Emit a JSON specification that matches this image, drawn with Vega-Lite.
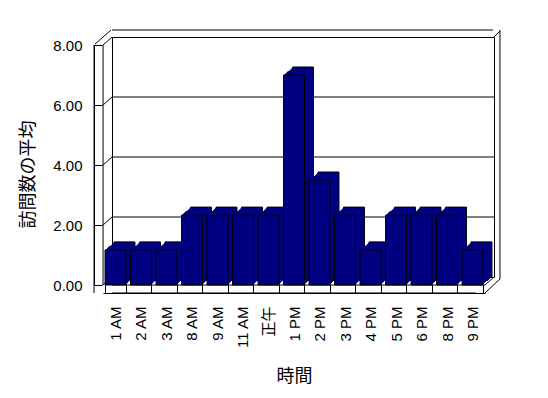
{
  "$schema": "https://vega.github.io/schema/vega-lite/v6.json",
  "autosize": {"type": "none"},
  "width": 382,
  "height": 240,
  "padding": {"left": 112, "top": 37, "right": 54, "bottom": 121},
  "background": "white",
  "config": {
    "view": {"stroke": "black", "strokeWidth": 1},
    "font": "Liberation Sans"
  },
  "datasets": {
    "visits": [
      {"時間": "1 AM", "平均": 1.17},
      {"時間": "2 AM", "平均": 1.17},
      {"時間": "3 AM", "平均": 1.17},
      {"時間": "8 AM", "平均": 2.33},
      {"時間": "9 AM", "平均": 2.33},
      {"時間": "11 AM", "平均": 2.33},
      {"時間": "正午", "平均": 2.33},
      {"時間": "1 PM", "平均": 7.0},
      {"時間": "2 PM", "平均": 3.5},
      {"時間": "3 PM", "平均": 2.33},
      {"時間": "4 PM", "平均": 1.17},
      {"時間": "5 PM", "平均": 2.33},
      {"時間": "6 PM", "平均": 2.33},
      {"時間": "8 PM", "平均": 2.33},
      {"時間": "9 PM", "平均": 1.17}
    ],
    "grid": [{"v": 2}, {"v": 4}, {"v": 6}],
    "ticks": [{"v": 0}, {"v": 2}, {"v": 4}, {"v": 6}, {"v": 8}],
    "one": [{"v": 0}]
  },
  "layer": [
    {
      "data": {"name": "grid"},
      "mark": {"type": "rule", "color": "black", "strokeWidth": 1},
      "encoding": {
        "y": {"field": "v", "type": "quantitative", "scale": {"domain": [0, 8]}}
      }
    },
    {
      "data": {"name": "ticks"},
      "mark": {"type": "rule", "color": "black", "strokeWidth": 1, "xOffset": -11, "x2Offset": -2, "yOffset": 8, "y2Offset": 0},
      "encoding": {
        "x": {"datum": "1 AM", "type": "nominal", "bandPosition": 0},
        "x2": {"datum": "1 AM", "bandPosition": 0},
        "y": {"field": "v", "type": "quantitative"},
        "y2": {"field": "v"}
      }
    },
    {
      "data": {"name": "visits"},
      "mark": {"type": "bar", "color": "#000080", "stroke": "black", "strokeWidth": 1},
      "encoding": {
        "x": {
          "field": "時間", "type": "nominal",
          "scale": {
            "domain": ["1 AM", "2 AM", "3 AM", "8 AM", "9 AM", "11 AM", "正午", "1 PM", "2 PM", "3 PM", "4 PM", "5 PM", "6 PM", "8 PM", "9 PM"],
            "paddingInner": 0.18, "paddingOuter": 0.08
          },
          "axis": {
            "title": "時間",
            "titleFont": "Noto Sans CJK JP",
            "titleFontSize": 18,
            "titleFontWeight": "normal",
            "titleColor": "black",
            "titlePadding": 19,
            "labelFont": "Liberation Sans, Noto Sans CJK JP",
            "labelFontSize": 15,
            "labelColor": "black",
            "labelAngle": -90,
            "labelPadding": 22,
            "offset": 16,
            "position": -9,
            "tickBand": "extent",
            "tickSize": -9,
            "tickColor": "black",
            "domainColor": "black"
          }
        },
        "y": {
          "field": "平均", "type": "quantitative",
          "scale": {"domain": [0, 8]},
          "axis": {
            "title": "訪問数の平均",
            "titleFont": "Noto Sans CJK JP",
            "titleFontSize": 18,
            "titleFontWeight": "normal",
            "titleColor": "black",
            "titlePadding": 15,
            "titleY": 129,
            "values": [0, 2, 4, 6, 8],
            "format": ".2f",
            "grid": false,
            "labelFont": "Liberation Sans",
            "labelFontSize": 15,
            "labelColor": "black",
            "labelPadding": 20,
            "offset": 18,
            "position": 8,
            "tickSize": -8,
            "tickColor": "black",
            "domainColor": "black"
          }
        }
      }
    },
    {"data": {"name": "visits"}, "mark": {"type": "bar", "color": "#000080", "xOffset": -1, "yOffset": 1, "y2Offset": 1}, "encoding": {"x": {"field": "時間", "type": "nominal"}, "y": {"field": "平均", "type": "quantitative"}}},
    {"data": {"name": "visits"}, "mark": {"type": "bar", "color": "#000080", "xOffset": -2, "yOffset": 2, "y2Offset": 2}, "encoding": {"x": {"field": "時間", "type": "nominal"}, "y": {"field": "平均", "type": "quantitative"}}},
    {"data": {"name": "visits"}, "mark": {"type": "bar", "color": "#000080", "xOffset": -3, "yOffset": 3, "y2Offset": 3}, "encoding": {"x": {"field": "時間", "type": "nominal"}, "y": {"field": "平均", "type": "quantitative"}}},
    {"data": {"name": "visits"}, "mark": {"type": "bar", "color": "#000080", "xOffset": -4, "yOffset": 4, "y2Offset": 4}, "encoding": {"x": {"field": "時間", "type": "nominal"}, "y": {"field": "平均", "type": "quantitative"}}},
    {"data": {"name": "visits"}, "mark": {"type": "bar", "color": "#000080", "xOffset": -5, "yOffset": 4, "y2Offset": 4}, "encoding": {"x": {"field": "時間", "type": "nominal"}, "y": {"field": "平均", "type": "quantitative"}}},
    {"data": {"name": "visits"}, "mark": {"type": "bar", "color": "#000080", "xOffset": -6, "yOffset": 5, "y2Offset": 5}, "encoding": {"x": {"field": "時間", "type": "nominal"}, "y": {"field": "平均", "type": "quantitative"}}},
    {"data": {"name": "visits"}, "mark": {"type": "bar", "color": "#000080", "xOffset": -7, "yOffset": 6, "y2Offset": 6}, "encoding": {"x": {"field": "時間", "type": "nominal"}, "y": {"field": "平均", "type": "quantitative"}}},
    {"data": {"name": "visits"}, "mark": {"type": "bar", "color": "#000080", "xOffset": -8, "yOffset": 7, "y2Offset": 7}, "encoding": {"x": {"field": "時間", "type": "nominal"}, "y": {"field": "平均", "type": "quantitative"}}},
    {
      "data": {"name": "visits"},
      "mark": {"type": "bar", "color": "#000080", "stroke": "black", "strokeWidth": 1, "xOffset": -9, "yOffset": 8, "y2Offset": 8},
      "encoding": {
        "x": {"field": "時間", "type": "nominal"},
        "y": {"field": "平均", "type": "quantitative"}
      }
    },
    {
      "data": {"name": "one"},
      "mark": {"type": "rule", "color": "black", "strokeWidth": 1, "yOffset": 8, "xOffset": -9, "x2Offset": -9},
      "encoding": {"y": {"datum": 0, "type": "quantitative"}}
    },
    {
      "data": {"name": "one"},
      "mark": {"type": "rule", "color": "black", "strokeWidth": 1, "yOffset": 16, "xOffset": -18, "x2Offset": -9},
      "encoding": {"y": {"datum": 0, "type": "quantitative"}}
    },
    {
      "data": {"name": "one"},
      "mark": {"type": "rule", "color": "black", "strokeWidth": 1, "yOffset": -7, "xOffset": -1, "x2Offset": 6},
      "encoding": {"y": {"datum": 8, "type": "quantitative"}}
    },
    {
      "data": {"name": "one"},
      "mark": {"type": "rule", "color": "black", "strokeWidth": 1, "xOffset": -11, "yOffset": 8, "y2Offset": 8},
      "encoding": {
        "x": {"datum": "1 AM", "type": "nominal", "bandPosition": 0},
        "y": {"datum": 0, "type": "quantitative"},
        "y2": {"datum": 8}
      }
    },
    {
      "data": {"name": "one"},
      "mark": {"type": "rule", "color": "black", "strokeWidth": 1, "xOffset": -20, "yOffset": 16, "y2Offset": 8},
      "encoding": {
        "x": {"datum": "1 AM", "type": "nominal", "bandPosition": 0},
        "y": {"datum": 0, "type": "quantitative"},
        "y2": {"datum": 8}
      }
    },
    {
      "data": {"name": "one"},
      "mark": {"type": "rule", "color": "black", "strokeWidth": 1, "xOffset": -19, "x2Offset": -3, "yOffset": 7, "y2Offset": -7},
      "encoding": {
        "x": {"datum": "1 AM", "type": "nominal", "bandPosition": 0},
        "x2": {"datum": "1 AM", "bandPosition": 0},
        "y": {"datum": 8, "type": "quantitative"},
        "y2": {"datum": 8}
      }
    },
    {
      "data": {"name": "one"},
      "mark": {"type": "rule", "color": "black", "strokeWidth": 1, "xOffset": 2, "x2Offset": 8, "yOffset": 0, "y2Offset": -6},
      "encoding": {
        "x": {"datum": "9 PM", "type": "nominal", "bandPosition": 1},
        "x2": {"datum": "9 PM", "bandPosition": 1},
        "y": {"datum": 8, "type": "quantitative"},
        "y2": {"datum": 8}
      }
    },
    {
      "data": {"name": "one"},
      "mark": {"type": "rule", "color": "black", "strokeWidth": 1, "xOffset": 8, "yOffset": -7, "y2Offset": 2},
      "encoding": {
        "x": {"datum": "9 PM", "type": "nominal", "bandPosition": 1},
        "y": {"datum": 8, "type": "quantitative"},
        "y2": {"datum": 0}
      }
    },
    {
      "data": {"name": "one"},
      "mark": {"type": "rule", "color": "black", "strokeWidth": 1, "xOffset": -7, "x2Offset": 2, "yOffset": 8, "y2Offset": 0},
      "encoding": {
        "x": {"datum": "9 PM", "type": "nominal", "bandPosition": 1},
        "x2": {"datum": "9 PM", "bandPosition": 1},
        "y": {"datum": 0, "type": "quantitative"},
        "y2": {"datum": 0}
      }
    },
    {
      "data": {"name": "one"},
      "mark": {"type": "rule", "color": "black", "strokeWidth": 1, "xOffset": -7, "x2Offset": 8, "yOffset": 16, "y2Offset": 2},
      "encoding": {
        "x": {"datum": "9 PM", "type": "nominal", "bandPosition": 1},
        "x2": {"datum": "9 PM", "bandPosition": 1},
        "y": {"datum": 0, "type": "quantitative"},
        "y2": {"datum": 0}
      }
    }
  ]
}
